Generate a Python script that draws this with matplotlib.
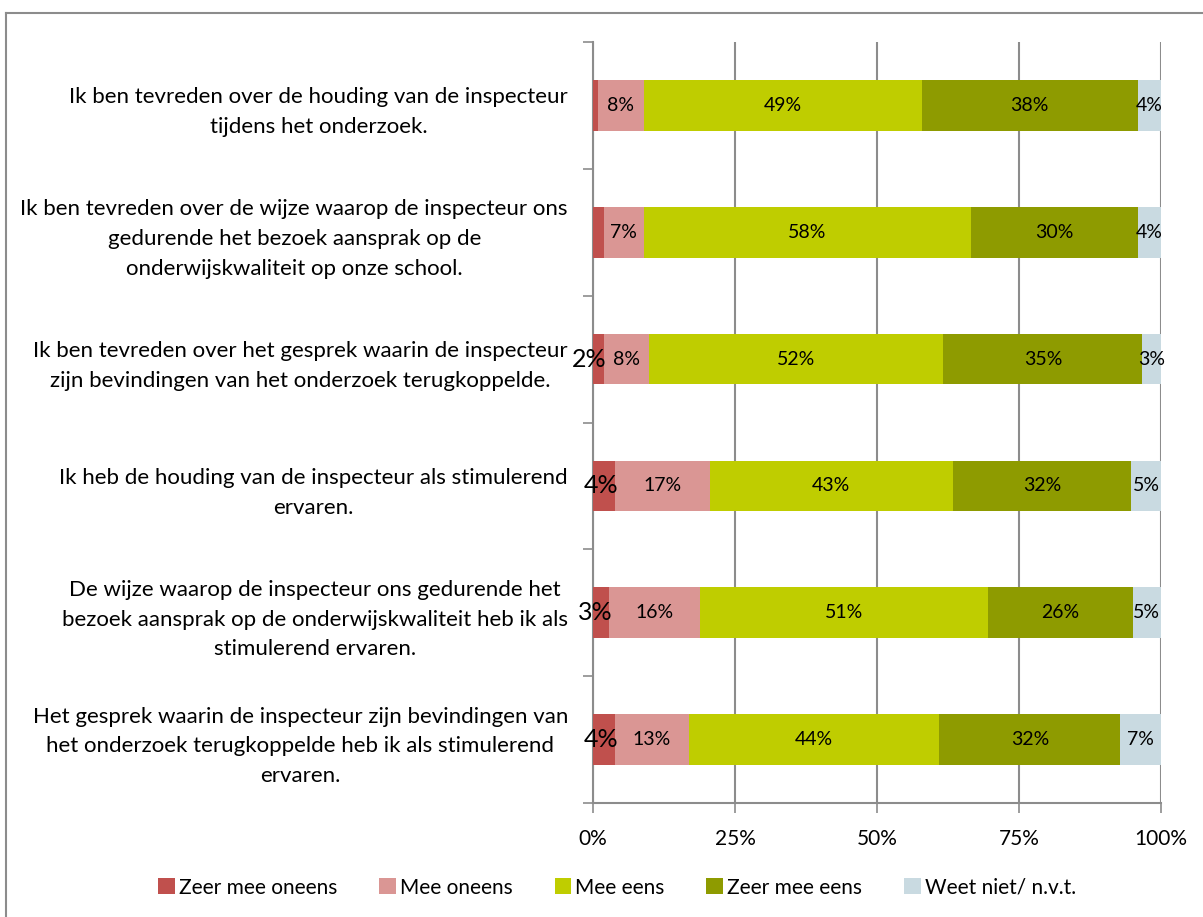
import numpy as np
import matplotlib.pyplot as plt
from matplotlib.lines import Line2D
from matplotlib.patches import Patch

plt.rcParams['font.family'] = ['Lato', 'DejaVu Sans']

statements = [
    'Ik ben tevreden over de houding van de inspecteur\ntijdens het onderzoek.',
    'Ik ben tevreden over de wijze waarop de inspecteur ons\ngedurende het bezoek aansprak op de\nonderwijskwaliteit op onze school.',
    'Ik ben tevreden over het gesprek waarin de inspecteur\nzijn bevindingen van het onderzoek terugkoppelde.',
    'Ik heb de houding van de inspecteur als stimulerend\nervaren.',
    'De wijze waarop de inspecteur ons gedurende het\nbezoek aansprak op de onderwijskwaliteit heb ik als\nstimulerend ervaren.',
    'Het gesprek waarin de inspecteur zijn bevindingen van\nhet onderzoek terugkoppelde heb ik als stimulerend\nervaren.',
]
series_names = ['Zeer mee oneens', 'Mee oneens', 'Mee eens', 'Zeer mee eens', 'Weet niet/ n.v.t.']

# percentages per statement, top to bottom
zeer_oneens = [0.9, 1.9, 1.9, 3.9, 2.9, 3.9]
mee_oneens = [8.0, 7.0, 7.9, 16.7, 16.0, 13.0]
mee_eens = [49.0, 57.6, 51.9, 42.7, 50.6, 44.1]
zeer_eens = [38.0, 29.5, 35.0, 31.5, 25.5, 31.8]
weet_niet = [4.1, 4.0, 3.3, 5.2, 5.0, 7.2]
show_first_label = [False, False, True, True, True, True]

colors = ['#C0504D', '#DA9694', '#BFCD00', '#8E9B00', '#C9DAE1']
series = [zeer_oneens, mee_oneens, mee_eens, zeer_eens, weet_niet]

fig = plt.figure(figsize=(12.03, 9.17), dpi=100)
ax = fig.add_axes([0.4929, 0.1243, 0.4722, 0.8299])

y = np.arange(len(statements))
left = np.zeros(len(statements))
for k, (vals, col) in enumerate(zip(series, colors)):
    vals = np.array(vals)
    ax.barh(y, vals, left=left, height=0.4, color=col, zorder=3)
    for i, v in enumerate(vals):
        if k == 0:
            # narrow first segment: label hangs to the left of the segment end
            if show_first_label[i]:
                ax.annotate(f'{v:.0f}%', xy=(left[i] + v, y[i]), xytext=(2, 0),
                            textcoords='offset points', ha='right', va='center',
                            fontsize=18, zorder=4)
        else:
            ax.text(left[i] + v / 2, y[i], f'{v:.0f}%', ha='center', va='center',
                    fontsize=14, zorder=4)
    left += vals

ax.set_xlim(0, 100)
ax.set_ylim(len(statements) - 0.5, -0.5)
ax.set_xticks([0, 25, 50, 75, 100])
ax.set_xticklabels(['0%', '25%', '50%', '75%', '100%'], fontsize=15)
ax.xaxis.grid(True, color='#8C8C8C', linewidth=1.5, zorder=0)

ax.set_yticks(y)
ax.set_yticklabels(statements, fontsize=16, multialignment='center', linespacing=1.6)
ax.set_yticks(np.arange(-0.5, len(statements)), minor=True)
ax.tick_params(axis='y', which='major', length=0, pad=18)
ax.tick_params(axis='y', which='minor', length=7, width=1.2, color='#8C8C8C')
ax.tick_params(axis='x', length=7, width=1.2, color='#8C8C8C', pad=12)

for side in ['top', 'right']:
    ax.spines[side].set_visible(False)
for side in ['left', 'bottom']:
    ax.spines[side].set_color('#8C8C8C')
    ax.spines[side].set_linewidth(1.5)

handles = [Patch(facecolor=c, edgecolor='none') for c in colors]
fig.legend(handles, series_names, loc='center', bbox_to_anchor=(0.513, 0.032), ncol=5,
           frameon=False, fontsize=15, handlelength=0.8, handleheight=0.8,
           handletextpad=0.2, columnspacing=2.0)

# outer chart frame
fig.add_artist(Line2D([6 / 1203, 6 / 1203], [0, 1 - 13 / 917], transform=fig.transFigure,
                      color='#8C8C8C', linewidth=1.5))
fig.add_artist(Line2D([6 / 1203, 1], [1 - 13 / 917, 1 - 13 / 917], transform=fig.transFigure,
                      color='#8C8C8C', linewidth=1.5))

fig.savefig('out.png', dpi=100)
